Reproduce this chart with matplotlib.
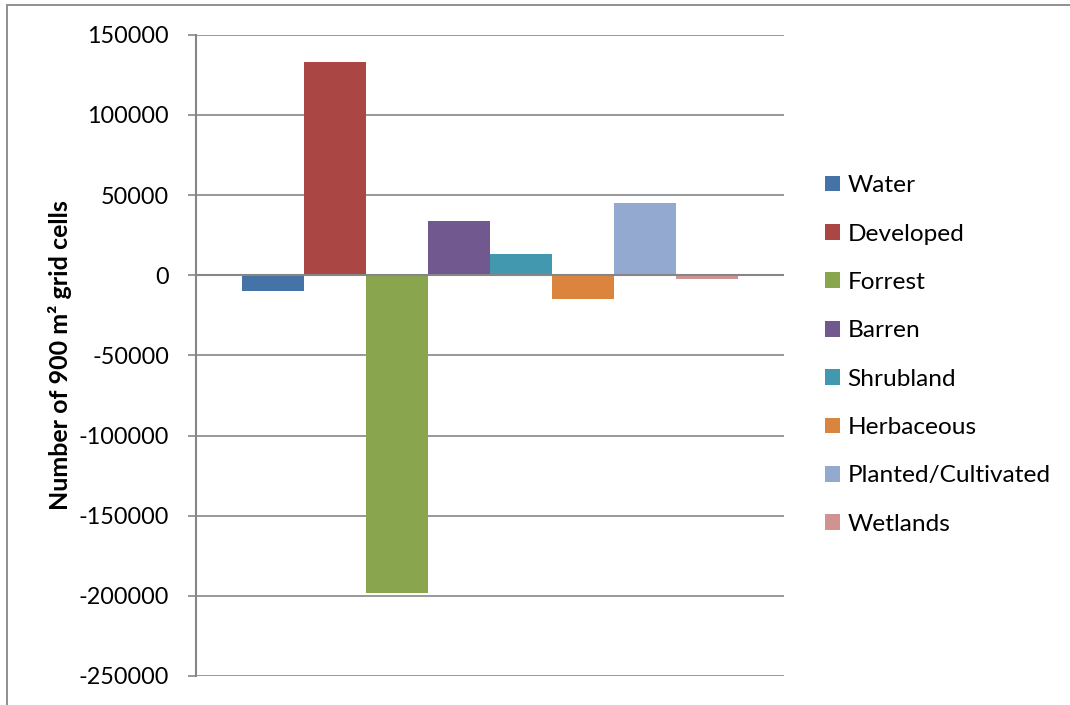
import matplotlib
matplotlib.use("Agg")
import matplotlib.pyplot as plt
from matplotlib.patches import Patch, Rectangle

plt.rcParams['font.family'] = ['Lato', 'DejaVu Sans']

categories = ["Water", "Developed", "Forrest", "Barren", "Shrubland",
              "Herbaceous", "Planted/Cultivated", "Wetlands"]
values = [-9600, 133000, -198000, 34000, 13300, -14600, 45000, -2100]
colors = ["#4572A7", "#AA4643", "#89A54E", "#71588F", "#4198AF",
          "#DB843D", "#93A9CF", "#D19392"]
yticks = [150000, 100000, 50000, 0, -50000, -100000, -150000, -200000, -250000]

W, H = 1070, 705
fig = plt.figure(figsize=(W / 100, H / 100), dpi=100)
ax = fig.add_axes([196 / W, 1 - 676 / H, (783.7 - 196) / W, (676 - 34.7) / H])

grid_c = "#868686"
for yv in yticks:
    ax.axhline(yv, color=grid_c, lw=1.2, zorder=0)

xs = list(range(len(categories)))
ax.bar(xs, values, width=1.0, color=colors, zorder=2, linewidth=0)
ax.axhline(0, color=grid_c, lw=1.5, zorder=3)

ax.set_xlim(-0.5 - 46 / 62, len(categories) - 0.5 + 46 / 62)
ax.set_ylim(-250000, 150000)
ax.set_yticks(yticks)
ax.set_yticklabels([str(v) for v in yticks], fontsize=16.8)
ax.set_xticks([])
for s in ["top", "right", "bottom"]:
    ax.spines[s].set_visible(False)
ax.spines["left"].set_color(grid_c)
ax.spines["left"].set_linewidth(1.5)
ax.tick_params(axis="y", length=6, width=1.2, color=grid_c, pad=13.5)

ax.set_ylabel("Number of 900 m² grid cells", fontsize=18, fontweight="bold")
ax.yaxis.set_label_coords((72 - 196) / (783.7 - 196), 0.5)

handles = [Patch(facecolor=c, edgecolor="none") for c in colors]
fig.legend(handles, categories, loc="center left",
           bbox_to_anchor=(825 / W, 1 - 355 / H), frameon=False,
           fontsize=17.6, handlelength=0.62, handleheight=0.62,
           handletextpad=0.3, labelspacing=1.12, borderaxespad=0, borderpad=0)

fig.patches.append(Rectangle((7 / W, -0.1), 1.2, 1.1 - 5 / H,
                             transform=fig.transFigure, fill=False,
                             edgecolor="#878787", lw=1.3))

fig.savefig("out.png", dpi=100)
